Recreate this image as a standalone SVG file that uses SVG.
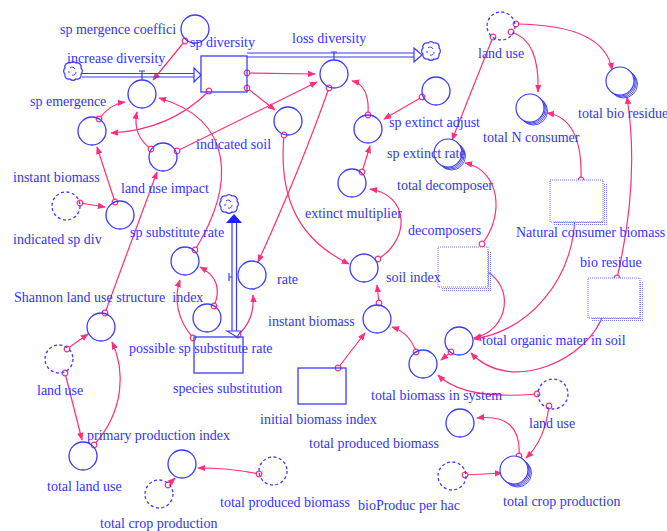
<svg xmlns="http://www.w3.org/2000/svg" xmlns:xlink="http://www.w3.org/1999/xlink" width="667" height="531" viewBox="0 0 667 531">
<defs>
<style>
.t{font-family:"Liberation Serif","Times New Roman",serif;font-size:14px;fill:#3333ff}
.n{fill:none;stroke:#3b3bff;stroke-width:1.3}
.k{fill:none;stroke:#3b3bff;stroke-width:0.9}
.d{fill:none;stroke:#3b3bff;stroke-width:1.3;stroke-dasharray:3 2.5}
.g{fill:#fff;stroke:#6a6aff;stroke-width:1;stroke-dasharray:1 1}
.gs{fill:url(#dots)}
.p{fill:none;stroke:#3b3bff;stroke-width:1.2}
.c{fill:none;stroke:#ff2e7e;stroke-width:1.2;marker-start:url(#tc);marker-end:url(#ah)}
</style>
<marker id="ah" viewBox="0 0 10 10" refX="9" refY="5" markerWidth="8" markerHeight="8" markerUnits="userSpaceOnUse" orient="auto"><path d="M0,1 L10,5 L0,9 z" fill="#ff2e7e"/></marker>
<marker id="tc" viewBox="-4 -4 8 8" refX="0" refY="0" markerWidth="8" markerHeight="8" markerUnits="userSpaceOnUse"><circle r="2.8" fill="#fff" stroke="#ff2e7e" stroke-width="1.2"/></marker>
<pattern id="dots" width="2" height="2" patternUnits="userSpaceOnUse"><rect width="1" height="1" fill="#7a7aff"/></pattern>
<g id="cloud"><path d="M-8,-3 a4,4 0 0 1 5,-5 a4,4 0 0 1 6,0 a4,4 0 0 1 5,5 a4,4 0 0 1 0,6 a4,4 0 0 1 -5,5 a4,4 0 0 1 -6,0 a4,4 0 0 1 -5,-5 a4,4 0 0 1 0,-6z" fill="#fff" stroke="#3b3bff" stroke-width="1.2"/><path d="M-3,-3 a3,3 0 0 1 5,1 M3,1 a3,3 0 0 1 -4,3 M-4,2 l0,-2" fill="none" stroke="#3b3bff" stroke-width="1"/></g>
<g id="stack"><circle cx="3.5" cy="3" r="14" class="k"/><circle cx="2.3" cy="2" r="14" class="k"/><circle cx="1.2" cy="1" r="14" class="k"/><circle r="14" fill="#fff" stroke="#3b3bff" stroke-width="1.2"/></g>
</defs>
<rect width="667" height="531" fill="#fff"/>

<g id="connectors">
<path class="c" d="M185,41 L153,80"/>
<path class="c" d="M209,91 Q170,130 111,133"/>
<path class="c" d="M99,119 Q110,104 125,102"/>
<path class="c" d="M151,149 Q132,135 137,112"/>
<path class="c" d="M177,151 L317,82"/>
<path class="c" d="M195,250 C235,185 235,120 159,98"/>
<path class="c" d="M247,73 L315,74"/>
<path class="c" d="M247,88 L275,110"/>
<path class="c" d="M284,135 C278,200 300,240 349,264"/>
<path class="c" d="M329,88 Q300,170 258,262"/>
<path class="c" d="M368,115 Q370,85 352,81"/>
<path class="c" d="M422,97 L384,119"/>
<path class="c" d="M362,172 L370,146"/>
<path class="c" d="M378,259 C410,240 410,195 370,189"/>
<path class="c" d="M379,303 L377,285"/>
<path class="c" d="M338,368 L365,333"/>
<path class="c" d="M416,352 Q410,333 392,327"/>
<path class="c" d="M451,352 L441,360"/>
<path class="c" d="M484,270 C515,285 510,330 474,338"/>
<path class="c" d="M575,216 C573,280 530,330 474,339"/>
<path class="c" d="M482,244 C505,215 500,170 465,163"/>
<path class="c" d="M493,37 L452,140"/>
<path class="c" d="M511,32 Q540,40 538,92"/>
<path class="c" d="M516,24 Q605,25 612,70"/>
<path class="c" d="M581,180 Q583,118 547,113"/>
<path class="c" d="M617,278 Q640,180 627,97"/>
<path class="c" d="M604,312 C590,360 510,395 471,353"/>
<path class="c" d="M537,394 C490,398 455,392 438,375"/>
<path class="c" d="M549,406 Q545,440 526,458"/>
<path class="c" d="M519,456 Q522,413 477,418"/>
<path class="c" d="M465,475 L502,473"/>
<path class="c" d="M259,474 Q230,468 198,468"/>
<path class="c" d="M168,485 L175,478"/>
<path class="c" d="M65,373 L82,440"/>
<path class="c" d="M94,445 C125,410 125,370 112,342"/>
<path class="c" d="M67,349 L88,334"/>
<path class="c" d="M105,313 L157,172"/>
<path class="c" d="M115,202 L97,147"/>
<path class="c" d="M80,203 L105,207"/>
<path class="c" d="M214,306 Q225,280 200,267"/>
<path class="c" d="M193,338 Q170,310 180,280"/>
<path class="c" d="M238,335 Q255,320 253,295"/>
</g>

<g id="flow-increase-diversity">
<use xlink:href="#cloud" x="73" y="71"/>
<path class="p" d="M82,73.5 H194 M82,77 H194"/>
<path d="M194,68 L201,75 L194,82 z" fill="#fff" stroke="#3b3bff" stroke-width="1.2"/>
<path class="p" d="M139,71 H145 M142,71 V80"/>
<circle cx="142" cy="94" r="14" class="n"/>
<text class="t" x="67" y="63">increase diversity</text>
</g>
<g id="sp-emergence">
<circle cx="92" cy="131" r="14" class="n"/>
<text class="t" x="30" y="106">sp emergence</text>
</g>
<g id="sp-mergence-coeffici">
<circle cx="195" cy="29" r="14" class="n"/>
<text class="t" x="60" y="34">sp mergence coeffici</text>
</g>
<g id="sp-diversity">
<rect x="201" y="56" width="46" height="36" fill="none" stroke="#3b3bff" stroke-width="1.3"/>
<text class="t" x="190" y="47">sp diversity</text>
</g>
<g id="flow-loss-diversity">
<path class="p" d="M247,53 H414 M247,57 H414"/>
<path d="M414,48 L422,55 L414,62 z" fill="#fff" stroke="#3b3bff" stroke-width="1.2"/>
<use xlink:href="#cloud" x="431" y="51"/>
<path class="p" d="M331,52 H337 M334,52 V60"/>
<circle cx="334" cy="74" r="14" class="n"/>
<text class="t" x="292" y="43">loss diversity</text>
</g>
<g id="land-use-impact">
<circle cx="163" cy="157" r="14" class="n"/>
<text class="t" x="121" y="193">land use impact</text>
</g>
<g id="indicated-soil">
<circle cx="288" cy="121" r="14" class="n"/>
<text class="t" x="196" y="149">indicated soil</text>
</g>
<g id="sp-extinct-adjust">
<circle cx="368" cy="129" r="14" class="n"/>
<circle cx="436" cy="91" r="14" class="n"/>
<text class="t" x="389" y="127">sp extinct adjust</text>
</g>
<g id="sp-extinct-rate">
<use xlink:href="#stack" x="448" y="153"/>
<text class="t" x="387" y="158">sp extinct rate</text>
</g>
<g id="extinct-multiplier">
<circle cx="352" cy="183" r="14" class="n"/>
<text class="t" x="305" y="218">extinct multiplier</text>
</g>
<g id="land-use-top">
<circle cx="501" cy="26" r="14" class="d"/>
<text class="t" x="478" y="58">land use</text>
</g>
<g id="total-N-consumer">
<use xlink:href="#stack" x="530" y="108"/>
<text class="t" x="483" y="142">total N consumer</text>
</g>
<g id="total-bio-residue">
<use xlink:href="#stack" x="620" y="81"/>
<text class="t" x="578" y="118">total bio residue</text>
</g>
<g id="total-decomposer">
<text class="t" x="397" y="190">total decomposer</text>
</g>
<g id="decomposers">
<rect x="442" y="251" width="50" height="40" class="gs"/>
<rect x="438" y="247" width="50" height="40" class="g"/>
<text class="t" x="408" y="235">decomposers</text>
</g>
<g id="natural-consumer-biomass">
<rect x="554" y="184" width="53" height="42" class="gs"/>
<rect x="550" y="180" width="53" height="42" class="g"/>
<text class="t" x="516" y="237">Natural consumer biomass</text>
</g>
<g id="bio-residue">
<rect x="592" y="282" width="52" height="40" class="gs"/>
<rect x="588" y="278" width="52" height="40" class="g"/>
<text class="t" x="580" y="267">bio residue</text>
</g>
<g id="instant-biomass-left">
<circle cx="120" cy="215" r="14" class="n"/>
<text class="t" x="13" y="182">instant biomass</text>
</g>
<g id="indicated-sp-div">
<circle cx="66" cy="206" r="14" class="d"/>
<text class="t" x="13" y="244">indicated sp div</text>
</g>
<g id="sp-substitute-rate">
<circle cx="185" cy="261" r="14" class="n"/>
<text class="t" x="130" y="237">sp substitute rate</text>
</g>
<g id="index">
<circle cx="207" cy="318" r="14" class="n"/>
</g>
<g id="species-substitution">
<rect x="194" y="337" width="49" height="36" fill="none" stroke="#3b3bff" stroke-width="1.3"/>
<path class="p" d="M232,222 V334 M236.5,222 V334" stroke-width="1.4"/>
<path d="M234,214 L242,223 L226,223 z" fill="#2020ff"/>
<path d="M227,331 L241,331 L237,337 z" fill="#fff" stroke="#3b3bff" stroke-width="1.1"/>
<use xlink:href="#cloud" x="229" y="204"/>
<path class="p" d="M229,273 V281 M229,277 H232"/>
<circle cx="252" cy="275" r="14" class="n"/>
<text class="t" x="277" y="284">rate</text>
<text class="t" x="129" y="353">possible sp substitute rate</text>
<text class="t" x="173" y="393">species substitution</text>
</g>
<g id="shannon-index">
<circle cx="101" cy="327" r="14" class="n"/>
<text class="t" x="14" y="302" xml:space="preserve">Shannon land use structure  index</text>
</g>
<g id="soil-index">
<circle cx="364" cy="268" r="14" class="n"/>
<text class="t" x="386" y="282">soil index</text>
</g>
<g id="instant-biomass">
<circle cx="377" cy="319" r="14" class="n"/>
<text class="t" x="268" y="326">instant biomass</text>
</g>
<g id="total-organic-mater">
<circle cx="459" cy="341" r="14" class="n"/>
<text class="t" x="482" y="345">total organic mater in soil</text>
</g>
<g id="total-biomass-in-system">
<circle cx="423" cy="364" r="14" class="n"/>
<text class="t" x="371" y="400">total biomass in system</text>
</g>
<g id="initial-biomass-index">
<rect x="298" y="368" width="48" height="36" fill="none" stroke="#3b3bff" stroke-width="1.3"/>
<text class="t" x="260" y="424">initial biomass index</text>
</g>
<g id="land-use-left">
<circle cx="59" cy="359" r="14" class="d"/>
<text class="t" x="37" y="395">land use</text>
</g>
<g id="total-land-use">
<circle cx="83" cy="456" r="14" class="n"/>
<text class="t" x="47" y="491">total land use</text>
</g>
<g id="primary-production-index">
<circle cx="182" cy="464" r="14" class="n"/>
<text class="t" x="87" y="440">primary production index</text>
</g>
<g id="total-crop-production-left">
<circle cx="159" cy="494" r="14" class="d"/>
<text class="t" x="100" y="528">total crop production</text>
</g>
<g id="total-produced-biomass-left">
<circle cx="273" cy="471" r="14" class="d"/>
<text class="t" x="220" y="507">total produced biomass</text>
</g>
<g id="total-produced-biomass">
<circle cx="460" cy="423" r="14" class="n"/>
<text class="t" x="309" y="448">total produced biomass</text>
</g>
<g id="bioProduc-per-hac">
<circle cx="452" cy="476" r="14" class="d"/>
<text class="t" x="358" y="510">bioProduc per hac</text>
</g>
<g id="land-use-right">
<circle cx="553" cy="394" r="15" class="d"/>
<text class="t" x="529" y="428">land use</text>
</g>
<g id="total-crop-production">
<use xlink:href="#stack" x="514" y="470"/>
<text class="t" x="503" y="506">total crop production</text>
</g>
</svg>
